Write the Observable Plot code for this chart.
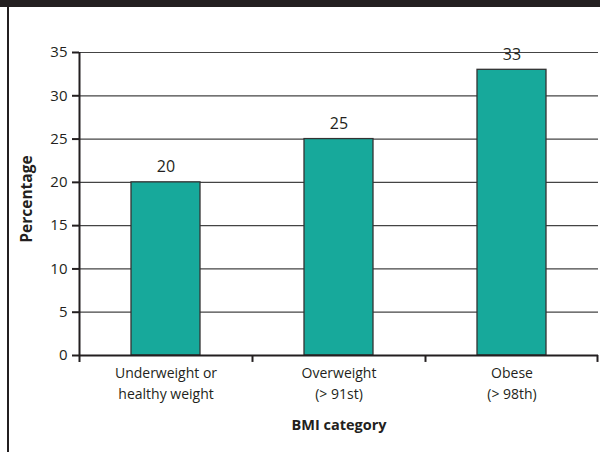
<!DOCTYPE html>
<html>
<head>
<meta charset="utf-8">
<script src="https://cdn.jsdelivr.net/npm/d3@7"></script>
<script src="https://cdn.jsdelivr.net/npm/@observablehq/plot@0.6"></script>
<style>
  html, body { margin: 0; padding: 0; background: #fff; }
  #wrap { position: relative; width: 600px; height: 452px; overflow: hidden; }
  #band { position: absolute; left: 0; top: 0; width: 600px; height: 7px; background: #231f20; }
  #edge { position: absolute; left: 7px; top: 7px; width: 2px; height: 445px; background: #231f20; }
  #chart { position: absolute; left: 0; top: 0; }
</style>
</head>
<body>
<div id="wrap">
  <div id="chart"></div>
  <div id="band"></div>
  <div id="edge"></div>
</div>
<script>
// BMI categories and the share in each
const categories = ["under", "over", "obese"];
const categoryLabels = ["Underweight or\nhealthy weight", "Overweight\n(> 91st)", "Obese\n(> 98th)"];
const percentages = [20, 25, 33];
const yTicks = [0, 5, 10, 15, 20, 25, 30, 35];

const data = categories.map((c, i) => ({category: c, label: categoryLabels[i], value: percentages[i]}));
const labelOf = new Map(categories.map((c, i) => [c, categoryLabels[i]]));

const W = 600, H = 452, mL = 79, mR = 2, mT = 52, mB = 97;
const bw = (W - mL - mR) / categories.length;
const font = "'Open Sans', 'Noto Sans', sans-serif";

const chart = Plot.plot({
  width: W,
  height: H,
  marginLeft: mL,
  marginRight: mR,
  marginTop: mT,
  marginBottom: mB,
  style: {fontFamily: font, fontSize: "14px", color: "#231f20", background: "transparent"},
  x: {domain: categories, padding: 0},
  y: {domain: [0, 35]},
  marks: [
    // horizontal gridlines
    Plot.ruleY(yTicks.filter(d => d > 0), {stroke: "#444", strokeWidth: 1.2}),
    // bars
    Plot.barY(data, {x: "category", y: "value", fill: "#17a99b", stroke: "#333", strokeWidth: 1.3, insetLeft: 52, insetRight: 52}),
    // value labels
    Plot.text(data, {x: "category", y: "value", text: d => String(d.value), dy: -15, fontSize: 16, fill: "#231f20"}),
    // y axis
    Plot.axisY({ticks: yTicks, tickSize: 7, tickPadding: 5, fontSize: 15, stroke: "#231f20", strokeWidth: 2, label: null}),
    Plot.ruleX([0], {x: () => categories[0], y1: -0.8, y2: 35, dx: -bw / 2, stroke: "#231f20", strokeWidth: 2}),
    // x axis with ticks at the category boundaries
    Plot.ruleY([0], {stroke: "#231f20", strokeWidth: 2}),
    Plot.ruleX(categories.slice(1), {x: d => d, y1: -0.8, y2: 0, dx: -bw / 2, stroke: "#231f20", strokeWidth: 2}),
    Plot.ruleX([categories[categories.length - 1]], {x: d => d, y1: -0.8, y2: 0, dx: bw / 2 - 1, stroke: "#231f20", strokeWidth: 2}),
    Plot.axisX({tickSize: 0, tickPadding: 8, tickFormat: d => labelOf.get(d), fontSize: 14, lineHeight: 1.5, label: null}),
    // axis titles
    Plot.text(["Percentage"], {frameAnchor: "left", textAnchor: "middle", dx: -52, dy: -5, rotate: -90, fontWeight: "bold", fontSize: 15.5, fill: "#231f20"}),
    Plot.text(["BMI category"], {frameAnchor: "bottom", textAnchor: "middle", dy: 74, fontWeight: "bold", fontSize: 14.5, fill: "#231f20"})
  ]
});
document.getElementById("chart").appendChild(chart);
</script>
</body>
</html>
